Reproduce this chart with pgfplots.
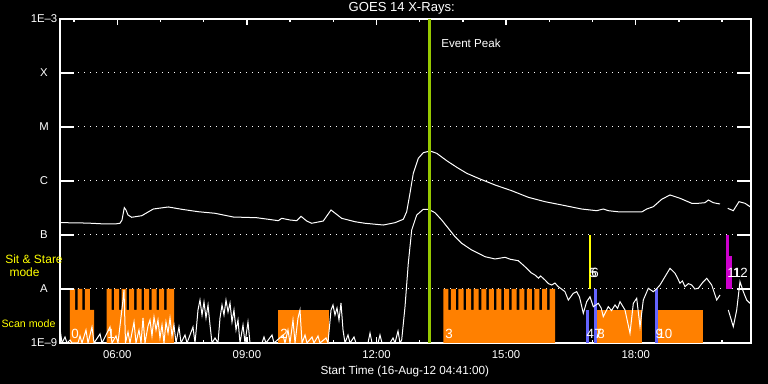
\documentclass[border=0pt]{standalone}
\usepackage{fontspec}
\setmainfont{Liberation Sans}
\usepackage{pgfplots}
\pgfplotsset{compat=1.18}
\definecolor{scanorange}{RGB}{255,128,0}
\definecolor{peakgreen}{RGB}{150,200,0}
\definecolor{modeblue}{RGB}{100,100,255}
\definecolor{ssmagenta}{RGB}{204,0,204}
\definecolor{ssyellow}{RGB}{255,255,0}
\begin{document}
\begin{tikzpicture}
\path[use as bounding box, fill=black] (0,0) rectangle (576pt,288pt);
\begin{axis}[
  at={(45pt,30.75pt)}, anchor=south west,
  scale only axis, width=518.25pt, height=243pt,
  xmin=4.6736, xmax=20.669, ymin=-9, ymax=-3,
  axis line style={white, line width=1pt},
  xtick={6,9,12,15,18}, xticklabels={06:00,09:00,12:00,15:00,18:00},
  minor xtick={5,7,8,10,11,13,14,16,17,19,20},
  tick align=inside, major tick length=4.75pt, minor tick length=2.5pt,
  xtick style={white, line width=1pt},
  ytick={-9,-8,-7,-6,-5,-4,-3}, yticklabels={1E–9,A,B,C,M,X,1E–3},
  ytick style={draw=none},
  ymajorgrids, grid style={white, line width=0.75pt, dash pattern=on 0.75pt off 3.75pt},
  ticklabel style={font=\fontsize{8.5}{10}\selectfont, text=white},
  xticklabel style={anchor=center, yshift=-8.6pt},
  yticklabel style={anchor=center, xshift=-12pt},
  unbounded coords=jump,
  clip=true,
]
% scan mode blocks
\addplot[fill=scanorange, draw=none] coordinates {(4.905,-9) (4.905,-8) (5.021,-8) (5.021,-8.389) (5.083,-8.389) (5.083,-8) (5.190,-8) (5.190,-8.389) (5.252,-8.389) (5.252,-8) (5.368,-8) (5.368,-8.389) (5.461,-8.389) (5.461,-9)} --cycle;
\addplot[fill=scanorange, draw=none] coordinates {(5.755,-9) (5.755,-8) (5.871,-8) (5.871,-8.389) (5.929,-8.389) (5.929,-8) (6.045,-8) (6.045,-8.389) (6.102,-8.389) (6.102,-8) (6.218,-8) (6.218,-8.389) (6.276,-8.389) (6.276,-8) (6.392,-8) (6.392,-8.389) (6.449,-8.389) (6.449,-8) (6.565,-8) (6.565,-8.389) (6.623,-8.389) (6.623,-8) (6.739,-8) (6.739,-8.389) (6.797,-8.389) (6.797,-8) (6.913,-8) (6.913,-8.389) (6.970,-8.389) (6.970,-8) (7.086,-8) (7.086,-8.389) (7.144,-8.389) (7.144,-8) (7.313,-8) (7.313,-9)} --cycle;
\addplot[fill=scanorange, draw=none] coordinates {(9.727,-9) (9.727,-8.389) (10.900,-8.389) (10.900,-9)} --cycle;
\addplot[fill=scanorange, draw=none] coordinates {(13.546,-9) (13.546,-8) (13.662,-8) (13.662,-8.389) (13.722,-8.389) (13.722,-8) (13.838,-8) (13.838,-8.389) (13.898,-8.389) (13.898,-8) (14.014,-8) (14.014,-8.389) (14.074,-8.389) (14.074,-8) (14.190,-8) (14.190,-8.389) (14.250,-8.389) (14.250,-8) (14.366,-8) (14.366,-8.389) (14.426,-8.389) (14.426,-8) (14.541,-8) (14.541,-8.389) (14.601,-8.389) (14.601,-8) (14.717,-8) (14.717,-8.389) (14.777,-8.389) (14.777,-8) (14.893,-8) (14.893,-8.389) (14.953,-8.389) (14.953,-8) (15.069,-8) (15.069,-8.389) (15.129,-8.389) (15.129,-8) (15.245,-8) (15.245,-8.389) (15.305,-8.389) (15.305,-8) (15.421,-8) (15.421,-8.389) (15.481,-8.389) (15.481,-8) (15.597,-8) (15.597,-8.389) (15.657,-8.389) (15.657,-8) (15.773,-8) (15.773,-8.389) (15.833,-8.389) (15.833,-8) (15.949,-8) (15.949,-8.389) (16.009,-8.389) (16.009,-8) (16.132,-8) (16.132,-9)} --cycle;
\addplot[fill=scanorange, draw=none] coordinates {(17.081,-9) (17.081,-8.389) (18.153,-8.389) (18.153,-9)} --cycle;
\addplot[fill=scanorange, draw=none] coordinates {(18.486,-9) (18.486,-8.389) (19.558,-8.389) (19.558,-9)} --cycle;
% other modes
\addplot[fill=modeblue, draw=none] coordinates {(16.850,-9) (16.850,-8.389) (16.912,-8.389) (16.912,-9)} --cycle;
\addplot[fill=modeblue, draw=none] coordinates {(17.035,-9) (17.035,-8) (17.097,-8) (17.097,-9)} --cycle;
\addplot[fill=modeblue, draw=none] coordinates {(18.447,-9) (18.447,-8) (18.509,-8) (18.509,-9)} --cycle;
\addplot[fill=ssyellow, draw=none] coordinates {(16.912,-8) (16.912,-7) (16.965,-7) (16.965,-8)} --cycle;
\addplot[fill=ssmagenta, draw=none] coordinates {(20.091,-8) (20.091,-7) (20.153,-7) (20.153,-8)} --cycle;
\addplot[fill=ssmagenta, draw=none] coordinates {(20.153,-8) (20.153,-7.389) (20.222,-7.389) (20.222,-8)} --cycle;
% long channel
\addplot[white, line width=0.75pt] coordinates {(4.674,-6.772) (4.697,-6.772) (5.10,-6.775) (5.407,-6.783) (5.715,-6.796) (5.947,-6.796) (6.062,-6.783) (6.109,-6.722) (6.162,-6.494) (6.201,-6.537) (6.248,-6.630) (6.333,-6.672) (6.565,-6.643) (6.833,-6.519) (7.181,-6.481) (7.491,-6.524) (7.875,-6.569) (8.262,-6.598) (8.685,-6.667) (9.227,-6.680) (9.495,-6.709) (9.727,-6.735) (9.806,-6.691) (9.998,-6.722) (10.153,-6.735) (10.252,-6.654) (10.384,-6.741) (10.500,-6.783) (10.768,-6.741) (10.947,-6.537) (11.194,-6.691) (11.502,-6.754) (11.734,-6.783) (12.157,-6.815) (12.428,-6.772) (12.620,-6.709) (12.699,-6.569) (12.775,-6.228) (12.852,-5.857) (12.968,-5.580) (13.083,-5.476) (13.238,-5.444) (13.394,-5.487) (13.625,-5.624) (13.857,-5.746) (14.088,-5.857) (14.357,-5.950) (14.743,-6.074) (15.130,-6.180) (15.514,-6.302) (15.900,-6.383) (16.287,-6.444) (16.595,-6.494) (16.750,-6.519) (17.097,-6.550) (17.250,-6.519) (17.366,-6.550) (17.637,-6.574) (18.139,-6.574) (18.255,-6.519) (18.407,-6.476) (18.602,-6.339) (18.794,-6.259) (19.025,-6.320) (19.296,-6.413) (19.449,-6.413) (19.604,-6.402) (19.681,-6.352) (19.797,-6.402) (19.951,-6.426)};
\addplot[white, line width=0.75pt] coordinates {(20.130,-6.506) (20.259,-6.550) (20.391,-6.383) (20.530,-6.413) (20.646,-6.476) (20.669,-6.490)};
% short channel
\addplot[white, line width=0.75pt] coordinates {(4.674,-9) (4.697,-8.870) (4.720,-9) (4.789,-8.889) (4.836,-9) (4.905,-8.944) (4.951,-9) (5.090,-9) (5.137,-8.870) (5.183,-9) (5.275,-8.759) (5.322,-9) (5.414,-8.704) (5.461,-9) (5.600,-8.833) (5.646,-9) (5.831,-8.704) (5.877,-9) (5.970,-8.870) (6.016,-9) (6.132,-8.204) (6.155,-8.019) (6.190,-9) (6.248,-8.796) (6.294,-9) (6.387,-8.611) (6.433,-9) (6.502,-8.759) (6.549,-9) (6.595,-8.537) (6.641,-9) (6.711,-8.685) (6.757,-8.574) (6.803,-8.870) (6.850,-8.519) (6.896,-8.759) (6.942,-8.574) (6.988,-8.907) (7.035,-8.667) (7.081,-9) (7.127,-8.611) (7.174,-8.815) (7.220,-8.537) (7.266,-8.870) (7.312,-8.667) (7.359,-9) (7.428,-8.704) (7.475,-9) (7.567,-8.852) (7.614,-9) (7.752,-8.704) (7.799,-9) (7.868,-8.389) (7.914,-8.204) (7.961,-8.482) (8.007,-8.241) (8.053,-8.537) (8.100,-8.296) (8.146,-8.667) (8.192,-9) (8.262,-8.907) (8.331,-9) (8.377,-8.537) (8.424,-8.296) (8.470,-8.482) (8.516,-8.204) (8.563,-8.426) (8.609,-8.259) (8.655,-8.611) (8.701,-8.389) (8.748,-8.759) (8.794,-8.574) (8.840,-9) (8.910,-8.667) (8.956,-9) (9.025,-8.611) (9.072,-9) (9.349,-9) (9.396,-8.889) (9.442,-9) (9.581,-8.852) (9.627,-9) (9.836,-8.852) (9.882,-9) (9.951,-8.759) (9.998,-9) (10.067,-8.574) (10.114,-9) (10.183,-8.537) (10.229,-8.389) (10.276,-9) (10.345,-8.852) (10.391,-9) (10.507,-8.889) (10.553,-9) (10.646,-8.870) (10.692,-9) (10.831,-8.907) (10.877,-9) (10.947,-8.389) (10.993,-8.296) (11.039,-8.482) (11.086,-8.352) (11.132,-8.574) (11.178,-8.259) (11.225,-8.759) (11.271,-9) (11.340,-8.852) (11.387,-9) (11.479,-8.889) (11.526,-9) (11.803,-9) (11.850,-8.815) (11.896,-9) (12.035,-9) (12.081,-8.852) (12.127,-9) (12.312,-9) (12.382,-8.907) (12.428,-9) (12.498,-8.778) (12.544,-9) (12.583,-8.944) (12.660,-8.328) (12.736,-7.524) (12.815,-6.907) (12.931,-6.630) (13.083,-6.524) (13.199,-6.524) (13.354,-6.587) (13.509,-6.722) (13.662,-6.876) (13.817,-7.031) (13.972,-7.154) (14.204,-7.278) (14.512,-7.402) (14.743,-7.444) (14.975,-7.413) (15.10,-7.45) (15.282,-7.476) (15.40,-7.56) (15.477,-7.617) (15.58,-7.70) (15.669,-7.741) (15.75,-7.80) (15.80,-7.76) (15.900,-7.833) (15.98,-7.90) (16.056,-7.926) (16.13,-7.89) (16.208,-7.957) (16.30,-8.01) (16.363,-8.050) (16.440,-8.204) (16.556,-8.080) (16.634,-8.050) (16.70,-8.15) (16.787,-8.450) (16.866,-8.235) (16.942,-8.143) (17.019,-8.328) (17.134,-8.265) (17.20,-8.35) (17.250,-8.513) (17.366,-8.328) (17.44,-8.40) (17.521,-8.296) (17.58,-8.36) (17.637,-8.235) (17.752,-8.389) (17.868,-8.820) (17.945,-8.265) (18.023,-8.172) (18.100,-8.698) (18.176,-8.204) (18.292,-7.987) (18.407,-8.050) (18.48,-8.00) (18.562,-7.926) (18.678,-7.772) (18.794,-7.617) (18.910,-7.709) (18.97,-7.80) (19.025,-7.894) (19.08,-7.85) (19.141,-7.957) (19.22,-7.90) (19.296,-7.926) (19.37,-8.00) (19.449,-7.987) (19.55,-7.88) (19.643,-7.802) (19.759,-7.926) (19.875,-8.204) (19.951,-8.111)};
\addplot[white, line width=0.75pt] coordinates {(20.144,-8.389) (20.259,-8.698) (20.338,-8.389) (20.414,-7.865) (20.491,-8.050) (20.569,-8.204) (20.646,-8.265) (20.669,-8.200)};
% event peak
\addplot[peakgreen, line width=2.25pt] coordinates {(13.227,-9) (13.227,-3)};
% y ticks on both sides
\addplot[white, line width=1pt] coordinates {(4.6736,-8) (4.998,-8) (nan,nan) (4.6736,-7) (4.998,-7) (nan,nan) (4.6736,-6) (4.998,-6) (nan,nan) (4.6736,-5) (4.998,-5) (nan,nan) (4.6736,-4) (4.998,-4)};
\addplot[white, line width=1pt] coordinates {(20.345,-8) (20.669,-8) (nan,nan) (20.345,-7) (20.669,-7) (nan,nan) (20.345,-6) (20.669,-6) (nan,nan) (20.345,-5) (20.669,-5) (nan,nan) (20.345,-4) (20.669,-4)};
% block numbers
\begin{scope}[every node/.style={font=\fontsize{10}{12}\selectfont, text=white, inner sep=0pt}]
\node[anchor=base west] at (axis cs:4.928,-8.926) {0};
\node[anchor=base west] at (axis cs:5.765,-8.926) {1};
\node[anchor=base west] at (axis cs:9.766,-8.926) {2};
\node[anchor=base west] at (axis cs:13.586,-8.926) {3};
\node[anchor=base west] at (axis cs:16.855,-8.926) {4};
\node[anchor=base west] at (axis cs:17.035,-8.926) {7};
\node[anchor=base west] at (axis cs:17.104,-8.926) {8};
\node[anchor=base west] at (axis cs:18.455,-8.926) {9};
\node[anchor=base west] at (axis cs:18.500,-8.926) {10};
\node[anchor=base west] at (axis cs:16.919,-7.796) {5};
\node[anchor=base west] at (axis cs:16.965,-7.796) {6};
\node[anchor=base west] at (axis cs:20.114,-7.796) {11};
\node[anchor=base west] at (axis cs:20.245,-7.796) {12};
\end{scope}
\end{axis}
\node[text=white, font=\fontsize{9.8}{12}\selectfont] at (301.3pt,282pt) {GOES 14 X-Rays:};
\node[text=white, font=\fontsize{8.8}{11}\selectfont] at (303.6pt,9.75pt) {Start Time (16-Aug-12 04:41:00)};
\node[text=white, font=\fontsize{8.7}{11}\selectfont, anchor=west, inner sep=0pt] at (330.75pt,255.75pt) {Event Peak};
\node[text=ssyellow, font=\fontsize{9}{11}\selectfont, inner sep=0pt] at (25.5pt,93.75pt) {Sit \& Stare};
\node[text=ssyellow, font=\fontsize{9}{11}\selectfont, inner sep=0pt] at (18.4pt,84pt) {mode};
\node[text=ssyellow, font=\fontsize{8}{10}\selectfont, inner sep=0pt] at (21.4pt,45pt) {Scan mode};
\end{tikzpicture}
\end{document}
